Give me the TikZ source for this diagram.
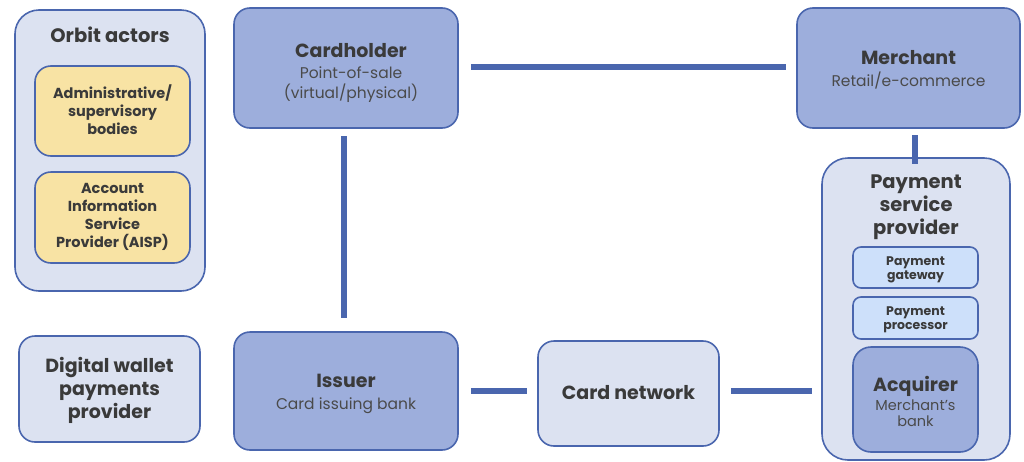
\documentclass[tikz,border=0pt]{standalone}
\usepackage{fontspec}
\setmainfont{Poppins}
\definecolor{edge}{HTML}{4A66AE}
\definecolor{dark}{HTML}{9DAEDC}
\definecolor{pale}{HTML}{DCE2F1}
\definecolor{yel}{HTML}{F8E3A4}
\definecolor{lblue}{HTML}{CDE0FA}
\definecolor{txt}{HTML}{3A3A3A}
\definecolor{txt2}{HTML}{4A4A4A}
\tikzset{
  box/.style={draw=edge, line width=1.6pt, rounded corners=16pt, inner sep=0pt},
  lbl/.style={text=txt, align=center, inner sep=0pt},
  link/.style={draw=edge, line width=6pt},
}
\newcommand{\ttl}{\bfseries\fontsize{19}{22}\selectfont}
\newcommand{\sbt}{\mdseries\fontsize{15.5}{19}\selectfont\color{txt2}}
\begin{document}
\begin{tikzpicture}[x=1pt,y=-1pt]
\useasboundingbox (0,0) rectangle (1024,461);
% containers
\draw[box, fill=pale, rounded corners=24pt] (15,10) rectangle (205,291);
\node[lbl, font=\bfseries\fontsize{19.5}{22}\selectfont] (orbit) at (110,35) {Orbit actors};
\draw[box, fill=yel] (35,66) rectangle (190,156);
\node[lbl, font=\bfseries\fontsize{14.5}{18}\selectfont] (admin) at (112.5,110) {Administrative/\\supervisory\\bodies};
\draw[box, fill=yel] (35,172) rectangle (190,263);
\node[lbl, font=\bfseries\fontsize{14.5}{18}\selectfont] (aisp) at (112.5,217) {Account\\Information\\Service\\Provider (AISP)};

\draw[box, fill=pale, rounded corners=26pt] (822,158) rectangle (1010,460);
\node[lbl, font=\bfseries\fontsize{19.5}{23}\selectfont] (psp) at (916,207) {Payment\\service\\provider};
\draw[box, fill=lblue, rounded corners=8pt] (853,247) rectangle (978,288);
\node[lbl, font=\bfseries\fontsize{12.5}{14}\selectfont] (gw) at (915.5,270) {Payment\\gateway};
\draw[box, fill=lblue, rounded corners=8pt] (853,297) rectangle (978,339);
\node[lbl, font=\bfseries\fontsize{12.5}{14}\selectfont] (proc) at (915.5,320) {Payment\\processor};
\draw[box, fill=dark, rounded corners=18pt] (853,347) rectangle (978,452);
\node[lbl, font=\fontsize{14.5}{19}\selectfont] (acq) at (915.5,401) {{\ttl Acquirer}\\{\sbt\fontsize{14.5}{16}\selectfont Merchant's}\\[-3pt]{\sbt\fontsize{14.5}{16}\selectfont bank}};

% main boxes
\node[box, fill=dark, minimum width=224pt, minimum height=120pt] (card) at (346,68) {};
\node[lbl, font=\fontsize{15.5}{21}\selectfont] (cardt) at (351,73) {{\ttl Cardholder}\\{\sbt Point-of-sale}\\[-1pt]{\sbt (virtual/physical)}};
\node[box, fill=dark, minimum width=223pt, minimum height=120pt] (merch) at (908.5,68) {};
\node[lbl, font=\fontsize{15.5}{22}\selectfont] (mercht) at (908.5,70) {{\ttl Merchant}\\{\sbt Retail/e-commerce}};
\node[box, fill=pale, minimum width=181pt, minimum height=106pt] (wallet) at (109.5,389) {};
\node[lbl, font=\bfseries\fontsize{19}{23}\selectfont] (wallett) at (109.5,390) {Digital wallet\\payments\\provider};
\node[box, fill=dark, minimum width=224pt, minimum height=118pt] (issuer) at (346,391) {};
\node[lbl, font=\fontsize{15.5}{22}\selectfont] (issuert) at (346,394) {{\ttl Issuer}\\{\sbt Card issuing bank}};
\node[box, fill=pale, minimum width=181pt, minimum height=105pt] (net) at (628.5,393.5) {};
\node[lbl, font=\ttl] (nett) at (628.5,393) {Card network};

\coordinate (pspL) at (822,391);
\coordinate (pspT) at (915,158);
% links
\draw[link] ([xshift=12pt]card.east |- 0,67) -- ([xshift=-10pt]merch.west |- 0,67);
\draw[link] (344,136) -- (344,318);
\draw[link] (915,135) -- ([yshift=-6pt]pspT);
\draw[link] ([xshift=12pt]issuer.east |- 0,391) -- ([xshift=-10pt]net.west |- 0,391);
\draw[link] ([xshift=11pt]net.east |- 0,391) -- ([xshift=-10pt]pspL);
\end{tikzpicture}
\end{document}
